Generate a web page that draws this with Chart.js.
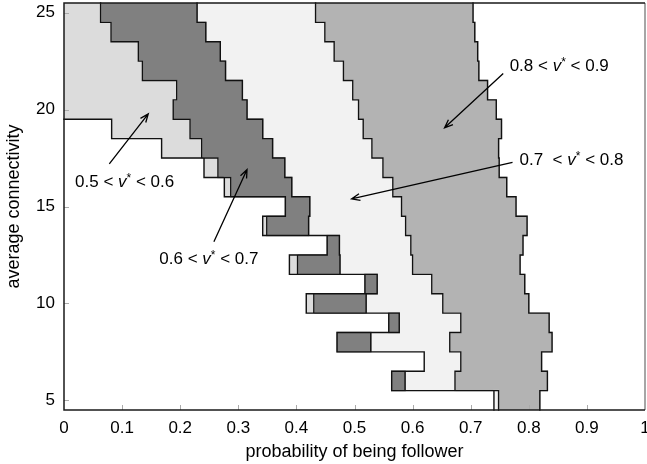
<!DOCTYPE html>
<html><head><meta charset="utf-8">
<script src="https://cdn.jsdelivr.net/npm/chart.js@4/dist/chart.umd.min.js"></script>
<style>html,body{margin:0;padding:0;background:#fff}</style>
</head><body>
<canvas id="c" width="647" height="464"></canvas>
<script>
// ---- data (rows of average connectivity, top to bottom) ----
const rows = [25,24,23,22,21,20,19,18,17,16,15,14,13,12,11,10,9,8,7,6,5];
// [start,end] of each v* band along "probability of being follower"; null = band absent in that row
const band56 = [[0,0.063],[0,0.081],[0,0.128],[0,0.135],[0,0.194],[0,0.188],[0.082,0.217],[0.168,0.237],[0.241,0.265],[0.276,0.287],null,[0.342,0.349],null,[0.388,0.402],null,[0.417,0.430],null,null,null,null,null];
const band67 = [[0.063,0.229],[0.081,0.244],[0.128,0.269],[0.135,0.278],[0.194,0.307],[0.188,0.315],[0.217,0.342],[0.237,0.359],[0.265,0.380],[0.287,0.392],[0.381,0.423],[0.349,0.421],[0.453,0.474],[0.402,0.475],[0.518,0.539],[0.430,0.520],[0.559,0.577],[0.470,0.528],null,[0.564,0.587],null];
const band78 = [[0.229,0.433],[0.244,0.449],[0.269,0.465],[0.278,0.481],[0.307,0.497],[0.315,0.507],[0.342,0.515],[0.359,0.530],[0.380,0.549],[0.392,0.566],[0.423,0.581],[0.421,0.588],[0.474,0.597],[0.475,0.600],[0.539,0.633],[0.520,0.652],[0.577,0.683],[0.528,0.664],[0.620,0.683],[0.587,0.673],[0.740,0.748]];
const band89 = [[0.433,0.704],[0.449,0.707],[0.465,0.712],[0.481,0.714],[0.497,0.729],[0.507,0.744],[0.515,0.753],[0.530,0.748],[0.549,0.749],[0.566,0.762],[0.581,0.778],[0.588,0.797],[0.597,0.790],[0.600,0.785],[0.633,0.793],[0.652,0.800],[0.683,0.835],[0.664,0.840],[0.683,0.822],[0.673,0.832],[0.748,0.819]];
const xTicks = [0,0.1,0.2,0.3,0.4,0.5,0.6,0.7,0.8,0.9,1];
const yTicks = [5,10,15,20,25];
const xTitle = 'probability of being follower';
const yTitle = 'average connectivity';
// annotation labels: [pre, post, x, y (data coords, left/middle)], arrows [x0,y0,x1,y1]
const labels = [
  ['0.8 < ', ' < 0.9', 0.767, 22.32],
  ['0.7  < ', ' < 0.8', 0.784, 17.47],
  ['0.5 < ', ' < 0.6', 0.019, 16.30],
  ['0.6 < ', ' < 0.7', 0.164, 12.36]
];
const arrows = [
  [0.756, 21.86, 0.655, 19.06],
  [0.772, 17.28, 0.495, 15.39],
  [0.078, 17.20, 0.145, 19.78],
  [0.258, 13.18, 0.315, 16.91]
];

const FONT = '"Liberation Sans", Arial, Helvetica, sans-serif';
const bands = [band56, band67, band78, band89];
const colors = ['#dcdcdc', '#808080', '#f2f2f2', '#b3b3b3'];
const names = ['0.5<v*<0.6','0.6<v*<0.7','0.7<v*<0.8','0.8<v*<0.9'];

const datasets = bands.map((b, k) => ({
  label: names[k],
  data: rows.map((r, i) => b[i] ? {y: r, x: b[i]} : null).filter(p => p),
  backgroundColor: colors[k],
  borderWidth: 0,
  inflateAmount: 0.7,
  grouped: false,
  barPercentage: 1,
  categoryPercentage: 1
}));

function cls(i, v) {
  for (let k = 0; k < bands.length; k++) { const s = bands[k][i]; if (s && v > s[0] && v < s[1]) return k; }
  return -1;
}
function brk(i) { const b = [0, 1]; bands.forEach(bd => { const s = bd[i]; if (s) b.push(s[0], s[1]); }); return b; }

const contourPlugin = {
  id: 'contours',
  afterDatasetsDraw(chart) {
    const {ctx, scales: {x, y}} = chart;
    ctx.save();
    ctx.beginPath();
    for (let i = 0; i < rows.length; i++) {
      const r = rows[i];
      brk(i).forEach(b => {
        if (b <= 0 || b >= 1) return;
        if (cls(i, b - 1e-6) !== cls(i, b + 1e-6)) {
          const px = x.getPixelForValue(b);
          ctx.moveTo(px, y.getPixelForValue(r + 0.5));
          ctx.lineTo(px, y.getPixelForValue(r - 0.5));
        }
      });
      if (i + 1 < rows.length) {
        const bs = [...new Set([...brk(i), ...brk(i + 1)])].sort((a, b) => a - b);
        const yy = y.getPixelForValue(r - 0.5);
        for (let j = 0; j < bs.length - 1; j++) {
          const m = (bs[j] + bs[j + 1]) / 2;
          if (cls(i, m) !== cls(i + 1, m)) {
            ctx.moveTo(x.getPixelForValue(bs[j]), yy);
            ctx.lineTo(x.getPixelForValue(bs[j + 1]), yy);
          }
        }
      }
    }
    ctx.lineWidth = 1.4; ctx.strokeStyle = '#111'; ctx.lineCap = 'square';
    ctx.stroke();
    ctx.restore();
  }
};

const framePlugin = {
  id: 'frame',
  afterDraw(chart) {
    const {ctx, chartArea: a, scales: {x, y}} = chart;
    ctx.save();
    ctx.strokeStyle = '#aaa'; ctx.lineWidth = 1;
    ctx.beginPath();
    yTicks.forEach(v => { const py = Math.round(y.getPixelForValue(v)) + 0.5; ctx.moveTo(a.left, py); ctx.lineTo(a.left + 5, py); });
    xTicks.forEach(v => { if (v <= 0 || v >= 1) return; const px = Math.round(x.getPixelForValue(v)) + 0.5; ctx.moveTo(px, a.bottom); ctx.lineTo(px, a.bottom - 5); });
    ctx.stroke();
    ctx.lineWidth = 1.5;
    ctx.strokeStyle = '#888';
    ctx.beginPath(); ctx.moveTo(a.right, a.top); ctx.lineTo(a.right, a.bottom); ctx.stroke();
    ctx.strokeStyle = '#1a1a1a';
    ctx.beginPath();
    ctx.moveTo(a.right, a.top); ctx.lineTo(a.left, a.top); ctx.lineTo(a.left, a.bottom); ctx.lineTo(a.right, a.bottom);
    ctx.stroke();
    // axis titles
    ctx.fillStyle = '#000';
    ctx.font = '18px ' + FONT;
    ctx.textAlign = 'center'; ctx.textBaseline = 'middle';
    ctx.fillText(xTitle, (a.left + a.right) / 2, 452);
    ctx.translate(14, (a.top + a.bottom) / 2);
    ctx.rotate(-Math.PI / 2);
    ctx.fillText(yTitle, 0, 0);
    ctx.restore();
  }
};

const annotPlugin = {
  id: 'annot',
  afterDraw(chart) {
    const {ctx, scales: {x, y}} = chart;
    ctx.save();
    ctx.fillStyle = '#000';
    ctx.textBaseline = 'alphabetic'; ctx.textAlign = 'left';
    labels.forEach(([pre, post, lx, ly]) => {
      let px = x.getPixelForValue(lx);
      const base = y.getPixelForValue(ly) + 6;
      ctx.font = '17px ' + FONT;
      ctx.fillText(pre, px, base); px += ctx.measureText(pre).width;
      ctx.font = 'italic 17px ' + FONT;
      ctx.fillText('v', px, base); px += ctx.measureText('v').width;
      ctx.font = '12px ' + FONT;
      ctx.fillText('*', px, base - 5); px += ctx.measureText('*').width;
      ctx.font = '17px ' + FONT;
      ctx.fillText(post, px, base);
    });
    ctx.strokeStyle = '#000'; ctx.lineWidth = 1.3;
    arrows.forEach(([x0, y0, x1, y1]) => {
      const ax = x.getPixelForValue(x0), ay = y.getPixelForValue(y0);
      const bx = x.getPixelForValue(x1), by = y.getPixelForValue(y1);
      const ang = Math.atan2(by - ay, bx - ax);
      const h = 9, s = 0.38;
      ctx.beginPath();
      ctx.moveTo(ax, ay); ctx.lineTo(bx, by);
      ctx.moveTo(bx - h * Math.cos(ang - s), by - h * Math.sin(ang - s));
      ctx.lineTo(bx, by);
      ctx.lineTo(bx - h * Math.cos(ang + s), by - h * Math.sin(ang + s));
      ctx.stroke();
    });
    ctx.restore();
  }
};

new Chart(document.getElementById('c'), {
  type: 'bar',
  data: {datasets},
  options: {
    indexAxis: 'y',
    responsive: false,
    animation: false,
    devicePixelRatio: 1,
    layout: {padding: {top: 3, right: 2, left: 0, bottom: 0}},
    plugins: {legend: {display: false}, tooltip: {enabled: false}},
    scales: {
      x: {
        type: 'linear', min: 0, max: 1, offset: false,
        grid: {display: false, drawTicks: false}, border: {display: false},
        afterBuildTicks: s => { s.ticks = xTicks.map(v => ({value: v})); },
        afterFit: s => { s.height = 54; s.paddingLeft = 0; s.paddingRight = 0; },
        ticks: {padding: 8, color: '#000', autoSkip: false, maxRotation: 0,
          font: {family: FONT, size: 17}, callback: v => String(v)}
      },
      y: {
        type: 'linear', min: 4.5, max: 25.5, offset: false,
        grid: {display: false, drawTicks: false, offset: false}, border: {display: false},
        afterBuildTicks: s => { s.ticks = yTicks.map(v => ({value: v})); },
        afterFit: s => { s.width = 64; s.paddingTop = 0; s.paddingBottom = 0; },
        ticks: {padding: 9, color: '#000', autoSkip: false,
          font: {family: FONT, size: 17}, callback: v => String(v)}
      }
    }
  },
  plugins: [contourPlugin, framePlugin, annotPlugin]
});
</script>
</body></html>
